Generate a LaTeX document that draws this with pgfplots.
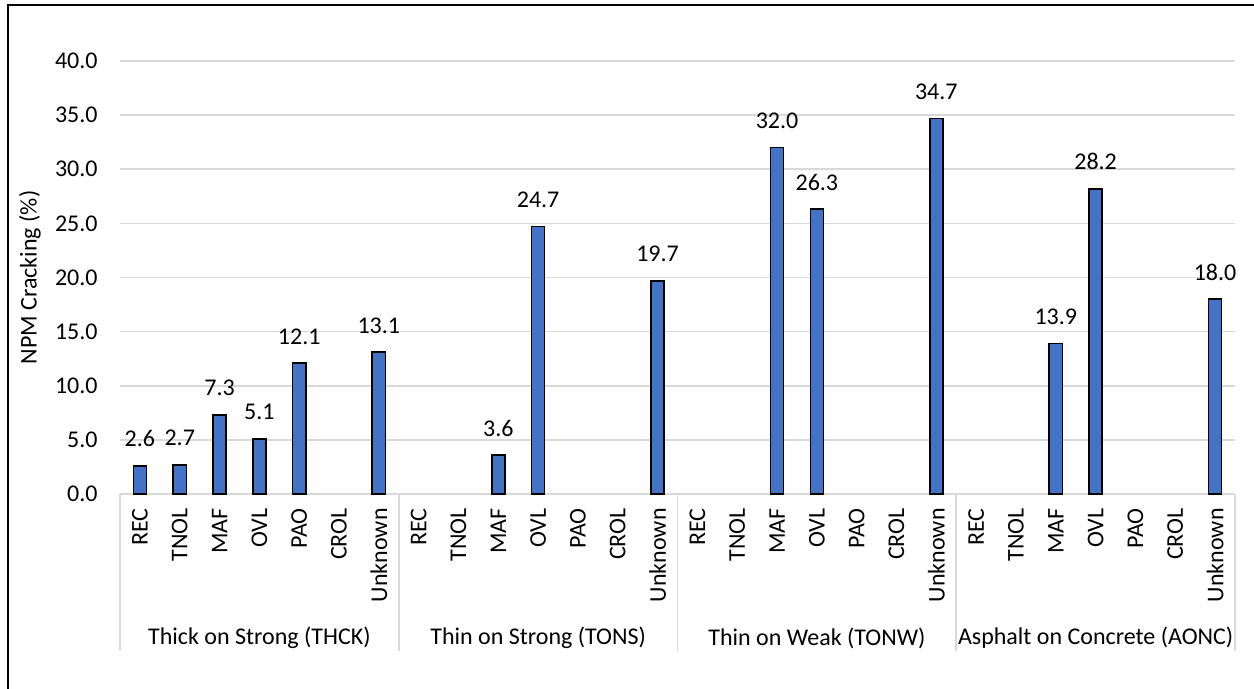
\documentclass[border=0pt]{standalone}
\usepackage{fontspec}
\setmainfont{Carlito}
\usepackage{pgfplots}
\pgfplotsset{compat=1.18}
\definecolor{barblue}{HTML}{4472C4}
\definecolor{gridgray}{HTML}{D9D9D9}

\begin{document}
\fontsize{12}{14.4}\selectfont
\begin{tikzpicture}
  \begin{axis}[
    at={(0,0)}, anchor=south west,
    scale only axis,
    width=557.5pt, height=216.5pt,
    ybar, bar width=0.33,
    xmin=-0.5, xmax=27.5,
    ymin=0, ymax=40,
    ytick={0,5,...,40},
    xtick={0,...,27},
    xticklabels={REC,TNOL,MAF,OVL,PAO,CROL,Unknown,
                 REC,TNOL,MAF,OVL,PAO,CROL,Unknown,
                 REC,TNOL,MAF,OVL,PAO,CROL,Unknown,
                 REC,TNOL,MAF,OVL,PAO,CROL,Unknown},
    xticklabel style={rotate=90, anchor=east, inner xsep=7pt},
    yticklabel style={xshift=-7pt, /pgf/number format/.cd, fixed, zerofill, precision=1},
    /pgf/number format/assume math mode=true,
    ymajorgrids,
    grid style={gridgray, line width=0.8pt},
    axis line style={draw=none},
    major tick length=0pt,
    clip=false,
    ylabel={NPM Cracking (\%)},
    every axis y label/.style={at={(axis description cs:-0.0807,0.5)}, rotate=90, anchor=center},
    nodes near coords={\pgfmathprintnumber[fixed,zerofill,precision=1]{\pgfplotspointmeta}},
    nodes near coords style={yshift=5pt},
  ]
    \addplot[fill=barblue, draw=black, line width=0.8pt]
      coordinates {
        (0,2.6) (1,2.7) (2,7.3) (3,5.1) (4,12.1) (6,13.1)
        (9,3.6) (10,24.7) (13,19.7)
        (16,32.0) (17,26.3) (20,34.7)
        (23,13.9) (24,28.2) (27,18.0)
      };
    % group separators below the axis
    \draw[gridgray, line width=0.8pt] (axis cs:-0.5,0) -- ++(0pt,-78.5pt);
    \draw[gridgray, line width=0.8pt] (axis cs:6.5,0) -- ++(0pt,-78.5pt);
    \draw[gridgray, line width=0.8pt] (axis cs:13.5,0) -- ++(0pt,-78.5pt);
    \draw[gridgray, line width=0.8pt] (axis cs:20.5,0) -- ++(0pt,-78.5pt);
    \draw[gridgray, line width=0.8pt] (axis cs:27.5,0) -- ++(0pt,-78.5pt);
    % group names
    \node[yshift=-72pt] at (axis cs:3,0) {Thick on Strong (THCK)};
    \node[yshift=-72pt] at (axis cs:10,0) {Thin on Strong (TONS)};
    \node[yshift=-72pt] at (axis cs:17,0) {Thin on Weak (TONW)};
    \node[yshift=-72pt] at (axis cs:24,0) {Asphalt on Concrete (AONC)};
  \end{axis}
  \pgfresetboundingbox
  \useasboundingbox (-60pt,-97.5pt) rectangle (567pt,247pt);
  \draw[line width=1pt] (-56pt,-120pt) -- (-56pt,244.5pt) -- (600pt,244.5pt);
\end{tikzpicture}
\end{document}
